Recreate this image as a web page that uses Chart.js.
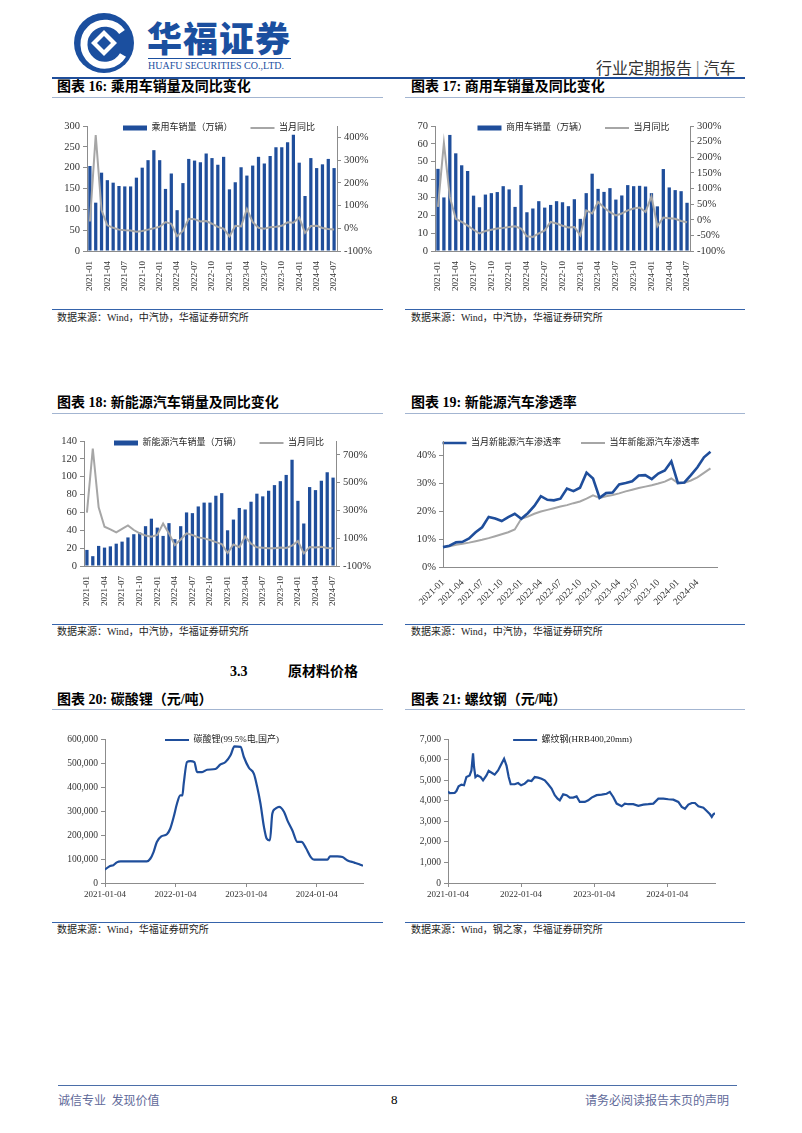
<!DOCTYPE html>
<html>
<head>
<meta charset="utf-8">
<script src="https://cdn.jsdelivr.net/npm/chart.js@4.4.1/dist/chart.umd.min.js"></script>
<style>
  body { margin: 0; background: #fff; }
  #page { position: relative; width: 802px; height: 1133px; overflow: hidden; font-family: 'Liberation Serif', 'Noto Sans CJK SC', serif; color: #000; }
  .t { position: absolute; white-space: nowrap; line-height: 1; }
  .ttl { font-size: 14px; font-weight: bold; }
  .src { font-size: 10px; color: #222; }
  .ln { position: absolute; height: 1px; }
  .under { background: #a3b5d1; }
  .blue { background: #3563ab; }
  canvas { position: absolute; }
</style>
</head>
<body>
<div id="page">
  <!-- 页眉 -->
  <svg class="t" style="left:68px;top:12px" width="72" height="62" viewBox="0 0 72 62">
    <circle cx="36" cy="31" r="30" fill="#1b4f9f"/>
    <path d="M 54 20 A 21 21 0 1 0 55 43" stroke="#fff" stroke-width="7" fill="none"/>
    <path d="M36 18 L49 31 L36 44 L23 31 Z" fill="#fff"/>
    <path d="M36 24 L43 31 L36 38 L29 31 Z" fill="#1b4f9f"/>
  </svg>
  <div class="t" style="left:147px;top:19px;font-size:35px;font-weight:900;color:#1b4f9f;font-family:'Noto Sans CJK SC';letter-spacing:1px;">华福证券</div>
  <div class="ln" style="left:148px;top:58px;width:143px;background:#1b4f9f;"></div>
  <div class="t" style="left:148px;top:61px;font-size:10px;color:#1b4f9f;">HUAFU SECURITIES CO.,LTD.</div>
  <div class="t" style="left:596px;top:59px;font-size:16px;color:#333;font-family:'Noto Sans CJK SC';">行业定期报告 <span style="color:#888">|</span> 汽车</div>
  <div class="ln" style="left:52px;top:77px;width:693px;height:2px;background:#1f4e9a;"></div>

  <!-- 第一行 -->
  <div class="t ttl" style="left:57px;top:80px;">图表 16: 乘用车销量及同比变化</div>
  <div class="t ttl" style="left:411px;top:80px;">图表 17: 商用车销量及同比变化</div>
  <div class="ln under" style="left:52px;top:97px;width:331px;"></div>
  <div class="ln under" style="left:405px;top:97px;width:340px;"></div>
  <canvas id="c16" width="335" height="195" style="left:50px;top:105px"></canvas>
  <canvas id="c17" width="341" height="195" style="left:404px;top:105px"></canvas>
  <div class="ln blue" style="left:52px;top:309px;width:331px;"></div>
  <div class="ln blue" style="left:405px;top:309px;width:340px;"></div>
  <div class="t src" style="left:57px;top:313px;">数据来源：Wind，中汽协，华福证券研究所</div>
  <div class="t src" style="left:411px;top:313px;">数据来源：Wind，中汽协，华福证券研究所</div>

  <!-- 第二行 -->
  <div class="t ttl" style="left:57px;top:396px;">图表 18: 新能源汽车销量及同比变化</div>
  <div class="t ttl" style="left:411px;top:396px;">图表 19: 新能源汽车渗透率</div>
  <div class="ln under" style="left:52px;top:413px;width:331px;"></div>
  <div class="ln under" style="left:405px;top:413px;width:340px;"></div>
  <canvas id="c18" width="335" height="195" style="left:50px;top:420px"></canvas>
  <canvas id="c19" width="341" height="195" style="left:404px;top:420px"></canvas>
  <div class="ln blue" style="left:52px;top:624px;width:331px;"></div>
  <div class="ln blue" style="left:405px;top:624px;width:340px;"></div>
  <div class="t src" style="left:57px;top:627px;">数据来源：Wind，中汽协，华福证券研究所</div>
  <div class="t src" style="left:411px;top:627px;">数据来源：Wind，中汽协，华福证券研究所</div>

  <!-- 3.3 原材料价格 -->
  <div class="t ttl" style="left:230px;top:665px;">3.3</div>
  <div class="t ttl" style="left:288px;top:665px;">原材料价格</div>
  <div class="t ttl" style="left:57px;top:693px;">图表 20: 碳酸锂（元/吨）</div>
  <div class="t ttl" style="left:411px;top:693px;">图表 21: 螺纹钢（元/吨）</div>
  <div class="ln under" style="left:52px;top:709px;width:331px;"></div>
  <div class="ln under" style="left:405px;top:709px;width:340px;"></div>
  <canvas id="c20" width="335" height="200" style="left:50px;top:715px"></canvas>
  <canvas id="c21" width="341" height="200" style="left:404px;top:715px"></canvas>
  <div class="ln blue" style="left:52px;top:922px;width:331px;"></div>
  <div class="ln blue" style="left:405px;top:922px;width:340px;"></div>
  <div class="t src" style="left:57px;top:925px;">数据来源：Wind，华福证券研究所</div>
  <div class="t src" style="left:411px;top:925px;">数据来源：Wind，钢之家，华福证券研究所</div>

  <!-- 页脚 -->
  <div class="ln" style="left:58px;top:1085px;width:679px;background:#4b6ea8;"></div>
  <div class="t" style="left:58px;top:1094px;font-size:12px;color:#5f6a9a;font-family:'Noto Sans CJK SC';">诚信专业&nbsp;&nbsp;发现价值</div>
  <div class="t" style="left:391px;top:1093px;font-size:13px;">8</div>
  <div class="t" style="left:585px;top:1094px;font-size:12px;color:#5f6a9a;font-family:'Noto Sans CJK SC';">请务必阅读报告末页的声明</div>
</div>

<script>
/* ===== 月份 ===== */
const months = [
  "2021-01","2021-02","2021-03","2021-04","2021-05","2021-06","2021-07","2021-08","2021-09","2021-10","2021-11","2021-12",
  "2022-01","2022-02","2022-03","2022-04","2022-05","2022-06","2022-07","2022-08","2022-09","2022-10","2022-11","2022-12",
  "2023-01","2023-02","2023-03","2023-04","2023-05","2023-06","2023-07","2023-08","2023-09","2023-10","2023-11","2023-12",
  "2024-01","2024-02","2024-03","2024-04","2024-05","2024-06","2024-07"
];

/* ===== 乘用车 ===== */
const psVol = [204,116,188,170,164,156,155,155,176,200,218,242,
               218,149,186,98,163,221,217,213,234,223,207,226,
               148,165,201,181,205,226,210,228,249,249,261,279,
               212,132,223,199,208,221,199];
const psYoy = [30,410,79,13,2,-6,-9,-10,-15,-12,-6,0,
               7,27,20,-35,-12,42,40,30,32,20,6,-2,
               -36,11,8,85,27,2,-2,5,7,11,26,24,
               47,-20,10,11,1,-3,-5];

/* ===== 商用车 ===== */
const cvVol = [46,30,65,54.7,48,44.8,31,24.5,31.6,32.4,33,36.3,
               34.5,24.7,36.9,21.7,23.8,27.9,24.3,25.8,27.9,27.3,25.1,29,
               18,32.4,43.3,34.8,33.1,35.2,28.8,31.1,36.9,36.3,36.5,36.1,
               32.4,25,45.9,35.6,34.1,33.5,27];
const cvYoy = [41,246,73,3,-7,-19,-32,-44,-36,-32,-28,-26,
               -23,-21,-28,-53,-55,-44,-34,-7,-12,-19,-25,-23,
               -50,30,20,57,39,24,14,20,30,36,39,25,
               75,-21,7,5,3,-4,-8];

/* ===== 新能源 ===== */
const nevVol = [18,11,22.5,20.6,22,25,27.3,32,35.6,37.5,44.6,53,
                43,33.7,48,30,44.6,60,59.2,66.7,71,71,78.7,81.6,
                40,52,65,63.3,72,81,78,84.3,90.6,95,102,119,
                73,47.6,88.4,85,95.5,105,99];
const nevYoy = [284,746,322,183,164,142,168,192,159,135,120,111,
                123,205,135,50,91,135,123,106,99,87,72,58,
                -6,55,35,112,61,35,31,27,28,34,30,47,
                79,-9,36,34,39,30,27];

/* ===== 渗透率 (%)，到2024-06 ===== */
const penMonth = [7.1,7.6,8.8,9.0,10.2,12.4,14.2,17.9,17.3,16.4,17.8,19.0,
                  17.2,19.2,21.8,25.3,24.0,23.8,24.4,28.0,27.1,28.3,33.7,31.6,
                  24.7,26.4,26.6,29.5,30.0,30.6,32.7,32.8,31.4,33.4,34.5,37.7,
                  30.0,30.2,32.8,35.6,39.2,41.2];
const penYear = [7.1,7.4,7.9,8.3,8.7,9.2,9.7,10.3,11.0,11.7,12.4,13.4,
                 17.2,18.0,19.0,19.8,20.4,21.0,21.6,22.1,22.8,23.4,24.4,25.6,
                 24.7,25.3,25.7,26.3,27.0,27.6,28.2,28.7,29.2,29.8,30.5,31.6,
                 30.0,30.1,30.9,32.0,33.6,35.2];

/* ===== 碳酸锂 ===== */
const liDates = ["2021-01-04","2021-01-30","2021-02-16","2021-03-06","2021-03-26","2021-08-08","2021-08-26","2021-09-12","2021-09-29","2021-10-22","2021-11-20","2021-12-07","2021-12-25",
                 "2022-01-11","2022-01-28","2022-02-08","2022-02-15","2022-03-04","2022-03-21","2022-04-11","2022-04-25","2022-05-21","2022-06-16","2022-07-29","2022-08-24","2022-09-19","2022-10-15","2022-11-04","2022-12-06","2022-12-23",
                 "2023-01-18","2023-02-13","2023-03-02","2023-03-19","2023-04-06","2023-04-20","2023-05-07","2023-05-19","2023-06-05","2023-06-23","2023-07-19","2023-08-05","2023-08-31","2023-09-26","2023-10-17","2023-11-08","2023-12-04","2023-12-21",
                 "2024-01-25","2024-02-28","2024-03-13","2024-04-20","2024-05-16","2024-06-11","2024-07-16","2024-08-11","2024-08-30"];
const liVals = [56000,71000,74000,86000,90000,90000,101000,129000,171000,194000,203000,226000,275000,
                330000,365000,365000,414000,504000,508000,504000,462000,462000,472000,475000,494000,504000,532000,569000,567000,525000,
                480000,455000,400000,330000,233000,185000,178000,289000,310000,317000,296000,261000,219000,171000,171000,147000,108000,97000,
                97000,97000,111000,111000,108000,94000,85000,78000,72000];

/* ===== 螺纹钢 ===== */
const rbDates = ["2021-01-04","2021-01-12","2021-02-06","2021-02-15","2021-02-26","2021-03-12","2021-03-25","2021-04-06","2021-04-22","2021-05-01","2021-05-09","2021-05-14","2021-05-21","2021-05-31","2021-06-16","2021-06-28","2021-07-15","2021-07-26","2021-08-12","2021-08-25","2021-09-11","2021-09-28","2021-10-11","2021-10-23","2021-11-03","2021-11-13","2021-12-03","2021-12-20",
                 "2022-01-04","2022-01-22","2022-02-08","2022-02-25","2022-03-13","2022-03-30","2022-04-16","2022-05-02","2022-05-19","2022-06-05","2022-06-21","2022-07-05","2022-07-16","2022-08-02","2022-08-19","2022-09-04","2022-09-21","2022-10-08","2022-10-24","2022-11-18","2022-12-05","2022-12-22",
                 "2023-01-16","2023-02-10","2023-03-07","2023-03-23","2023-04-09","2023-04-26","2023-05-21","2023-06-06","2023-06-23","2023-07-18","2023-08-12","2023-09-06","2023-10-01","2023-10-26","2023-11-20","2023-12-15",
                 "2024-01-09","2024-02-03","2024-02-28","2024-03-16","2024-04-01","2024-04-18","2024-05-05","2024-05-21","2024-06-07","2024-07-02","2024-07-19","2024-08-04","2024-08-13","2024-08-21","2024-08-29"];
const rbVals = [4450,4370,4380,4470,4700,4780,4750,5150,5230,5470,6300,5640,5150,5230,5150,4990,5230,5450,5350,5270,5470,5800,6040,5710,5150,4800,4800,4860,
                4750,4830,4990,4960,5150,5120,5070,4990,4800,4590,4270,4100,4020,4310,4270,4150,4150,4210,3940,3940,4020,4150,
                4270,4300,4340,4430,4180,3860,3730,3860,3830,3830,3750,3810,3830,3860,4100,4100,
                4070,4050,3940,3700,3610,3810,3890,3890,3730,3660,3500,3340,3210,3340,3400];

const yearTicks = ["2021-01-04","2022-01-04","2023-01-04","2024-01-04"];

/* ===== 样式 ===== */
Chart.defaults.font.family = "'Liberation Serif','Noto Sans CJK SC',serif";
Chart.defaults.color = "#333";
const AXIS = "#8c8c8c";
const BLUE = "#1f4e9b";
const GREY = "#a6a6a6";
const LEG_FS = 9;

const dayNum = d => (Date.parse(d) - Date.parse("2021-01-04")) / 86400000;

// 图例不占版面，布局后移到绘图区顶部（左右放宽以免换行，中心不变）
const legendAt = {
  id: "legendAt",
  afterLayout(chart, args, o) {
    const lg = chart.legend;
    if (!lg || o.y == null) return;
    const a = chart.chartArea;
    lg.left = a.left + (o.dx || 0) - 60;
    lg.right = a.right + (o.dx || 0) + 60;
    lg.width = lg.right - lg.left;
    lg.top = o.y - LEG_FS / 2 - o.pad;
    lg.bottom = lg.top + LEG_FS + 2 * o.pad + 4;
    lg.height = lg.bottom - lg.top;
  }
};
Chart.register(legendAt);

function legendCfg(pad) {
  return {
    position: "top",
    align: "center",
    maxHeight: 0.001,
    labels: {
      usePointStyle: true,
      pointStyleWidth: 24,
      boxHeight: 5,
      padding: pad,
      color: "#222",
      font: { size: LEG_FS },
      generateLabels(chart) {
        const items = Chart.defaults.plugins.legend.labels.generateLabels(chart);
        items.forEach(it => {
          const ds = chart.data.datasets[it.datasetIndex];
          if (ds.type === "bar") {
            it.pointStyle = "rect"; it.lineWidth = 0; it.fillStyle = ds.backgroundColor;
          } else {
            it.pointStyle = "line"; it.lineWidth = ds.borderWidth; it.strokeStyle = ds.borderColor;
          }
        });
        return items.sort((a, b) => a.datasetIndex - b.datasetIndex);
      }
    }
  };
}

function yAxis(extra, w) {
  return Object.assign({
    grid: { drawOnChartArea: false, color: AXIS, tickLength: 4 },
    border: { color: AXIS },
    afterFit: s => { s.width = w; }
  }, extra);
}

/* ===== 柱+线 ===== */
function comboChart(id, o) {
  return new Chart(document.getElementById(id), {
    type: "bar",
    data: {
      labels: months,
      datasets: [
        { type: "bar", label: o.barLabel, data: o.bars, backgroundColor: BLUE, yAxisID: "y", order: 1,
          categoryPercentage: 0.9, barPercentage: 0.62 },
        { type: "line", label: "当月同比", data: o.yoy, borderColor: GREY, backgroundColor: GREY,
          borderWidth: 2, pointRadius: 0, yAxisID: "y1", order: 0 }
      ]
    },
    options: {
      responsive: false,
      animation: false,
      layout: { padding: { top: 21 } },
      plugins: {
        legend: legendCfg(18),
        tooltip: { enabled: false },
        legendAt: { y: 23, dx: o.dx, pad: 18 }
      },
      scales: {
        x: {
          grid: { display: false },
          border: { color: AXIS },
          ticks: { autoSkip: false, minRotation: 90, maxRotation: 90, padding: 2, font: { size: 9 },
                   callback: (v, i) => (i % 3 === 0 ? months[i] : "") },
          afterFit: s => { s.height = 49; }
        },
        y: yAxis({ position: "left", min: 0, max: o.max,
                   ticks: { stepSize: o.step, padding: 3, font: { size: 10.5 } } }, o.lw),
        y1: yAxis({ position: "right", min: o.rmin, max: o.rmax,
                    ticks: { stepSize: o.rstep, padding: 3, font: { size: 10.5 }, callback: v => v + "%" } }, o.rw)
      }
    }
  });
}

comboChart("c16", { barLabel: "乘用车销量（万辆）", bars: psVol, yoy: psYoy,
  max: 300, step: 50, rmin: -100, rmax: 450, rstep: 50, lw: 37, rw: 48, dx: 7 });
comboChart("c17", { barLabel: "商用车销量（万辆）", bars: cvVol, yoy: cvYoy,
  max: 70, step: 10, rmin: -100, rmax: 300, rstep: 50, lw: 31, rw: 55, dx: 11 });
comboChart("c18", { barLabel: "新能源汽车销量（万辆）", bars: nevVol, yoy: nevYoy,
  max: 140, step: 20, rmin: -100, rmax: 800, rstep: 100, lw: 34, rw: 49, dx: 9 });

/* ===== 渗透率 ===== */
new Chart(document.getElementById("c19"), {
  type: "line",
  data: {
    labels: months,
    datasets: [
      { label: "当月新能源汽车渗透率", data: penMonth, borderColor: BLUE, backgroundColor: BLUE, borderWidth: 2.6, pointRadius: 0 },
      { label: "当年新能源汽车渗透率", data: penYear, borderColor: GREY, backgroundColor: GREY, borderWidth: 2, pointRadius: 0 }
    ]
  },
  options: {
    responsive: false,
    animation: false,
    layout: { padding: { top: 21, right: 28 } },
    plugins: {
      legend: legendCfg(20),
      tooltip: { enabled: false },
      legendAt: { y: 23, dx: -9, pad: 20 }
    },
    scales: {
      x: {
        offset: false,
        grid: { display: false },
        border: { color: AXIS },
        ticks: { autoSkip: false, minRotation: 45, maxRotation: 45, padding: 2, font: { size: 9.5 },
                 callback: (v, i) => (i % 3 === 0 && i < 40 ? months[i] : "") },
        afterFit: s => { s.height = 48; }
      },
      y: yAxis({ min: 0, max: 45, ticks: { stepSize: 5, padding: 3, font: { size: 10.5 }, callback: v => v + "%" } }, 39)
    }
  }
});

/* ===== 价格走势 ===== */
function priceChart(id, o) {
  const pts = o.dates.map((d, i) => ({ x: dayNum(d), y: o.vals[i] }));
  return new Chart(document.getElementById(id), {
    type: "line",
    data: {
      datasets: [{ label: o.label, data: pts, borderColor: BLUE, backgroundColor: BLUE, borderWidth: 2.2,
                   pointRadius: 0, cubicInterpolationMode: o.smooth ? "monotone" : "default", tension: 0 }]
    },
    options: {
      responsive: false,
      animation: false,
      layout: { padding: { top: 24, right: o.rp } },
      plugins: {
        legend: legendCfg(10),
        tooltip: { enabled: false },
        legendAt: { y: 25, dx: o.dx, pad: 10 }
      },
      scales: {
        x: {
          type: "linear",
          min: 0,
          max: dayNum(o.dates[o.dates.length - 1]),
          bounds: "data",
          grid: { drawOnChartArea: false, color: AXIS, tickLength: 4 },
          border: { color: AXIS },
          afterBuildTicks: s => { s.ticks = yearTicks.map(d => ({ value: dayNum(d) })); },
          ticks: { autoSkip: false, maxRotation: 0, padding: 2, font: { size: 9 },
                   callback: v => yearTicks.find(d => dayNum(d) === v) || "" },
          afterFit: s => { s.height = 32; }
        },
        y: yAxis({ min: 0, max: o.max,
                   ticks: { stepSize: o.step, padding: 3, font: { size: 9.5 }, callback: v => v.toLocaleString("en-US") } }, o.lw)
      }
    }
  });
}

priceChart("c20", { label: "碳酸锂(99.5%电,国产)", dates: liDates, vals: liVals, smooth: true,
  max: 600000, step: 100000, lw: 55, rp: 22, dx: -12 });
priceChart("c21", { label: "螺纹钢(HRB400,20mm)", dates: rbDates, vals: rbVals, smooth: false,
  max: 7000, step: 1000, lw: 44, rp: 30, dx: -9 });
</script>
</body>
</html>
